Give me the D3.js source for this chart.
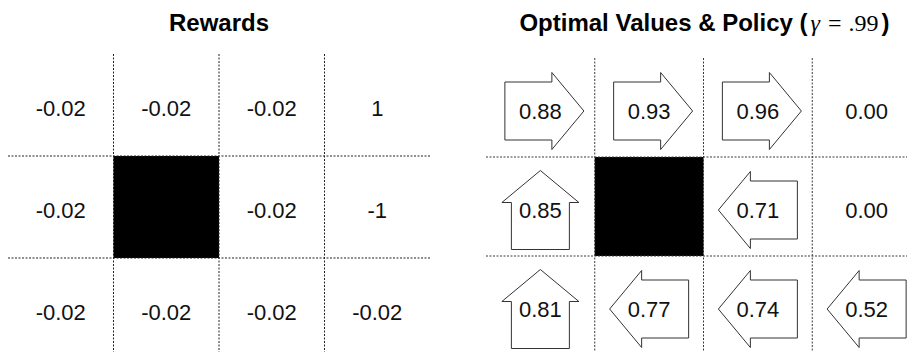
<!DOCTYPE html>
<html><head><meta charset="utf-8">
<script src="https://cdn.jsdelivr.net/npm/d3@7/dist/d3.min.js"></script>
<style>html,body{margin:0;padding:0;background:#fff;}svg{display:block;}</style>
</head><body>
<svg id="chart" width="907" height="352"></svg>
<script>
// ---- data ----
const cols = [0, 1, 2, 3];
const rows = [0, 1, 2];
const rewardLabels = [
  ["-0.02", "-0.02", "-0.02", "1"],
  ["-0.02", null,    "-0.02", "-1"],
  ["-0.02", "-0.02", "-0.02", "-0.02"]
];
const optimalValues = [
  [0.88, 0.93, 0.96, 0.00],
  [0.85, null, 0.71, 0.00],
  [0.81, 0.77, 0.74, 0.52]
];
const policy = [
  ["right", "right", "right", null],
  ["up",    null,    "left",  null],
  ["up",    "left",  "left",  "left"]
];
const wallCells = [[1, 1]]; // [row, col]
const titleLeft = "Rewards";
const titleRight = ["Optimal Values & Policy (", "γ", "=", ".99", ")"];

// ---- drawing ----
const svg = d3.select("#chart");
const W = 907, H = 352;

const panels = [
  {x: d3.scaleBand().domain(cols).range([8, 430]), y: d3.scaleBand().domain(rows).range([54, 360]), lineTop: 54, lineColor: "#222"},
  {x: d3.scaleBand().domain(cols).range([486, 921]), y: d3.scaleBand().domain(rows).range([58, 355]), lineTop: 58, lineColor: "#3a3a3a"}
];

function drawGrid(g, p) {
  const [x0, x1] = p.x.range();
  g.selectAll("rect.wall").data(wallCells).join("rect")
    .attr("class", "wall")
    .attr("x", d => p.x(d[1])).attr("y", d => p.y(d[0]))
    .attr("width", p.x.bandwidth()).attr("height", p.y.bandwidth())
    .attr("fill", "#000");
  g.selectAll("line.h").data(rows.slice(1)).join("line")
    .attr("class", "h")
    .attr("x1", x0).attr("x2", Math.min(x1, W))
    .attr("y1", d => p.y(d)).attr("y2", d => p.y(d))
    .attr("stroke", p.lineColor).attr("stroke-width", 1).attr("stroke-dasharray", "2,1.5");
  g.selectAll("line.v").data(cols.slice(1)).join("line")
    .attr("class", "v")
    .attr("x1", d => p.x(d)).attr("x2", d => p.x(d))
    .attr("y1", p.lineTop).attr("y2", H)
    .attr("stroke", p.lineColor).attr("stroke-width", 1).attr("stroke-dasharray", "2,1.5");
}

// Left panel
const gL = svg.append("g");
drawGrid(gL, panels[0]);
const pL = panels[0];
const leftCells = [];
rows.forEach(r => cols.forEach(c => { if (rewardLabels[r][c] !== null) leftCells.push({r, c, label: rewardLabels[r][c]}); }));
gL.selectAll("text.val").data(leftCells).join("text")
  .attr("class", "val")
  .attr("x", d => pL.x(d.c) + pL.x.bandwidth() / 2)
  .attr("y", d => pL.y(d.r) + pL.y.bandwidth() / 2 + 3)
  .attr("text-anchor", "middle").attr("dominant-baseline", "central")
  .attr("font-family", "'Liberation Sans', Arial, sans-serif").attr("font-size", 22)
  .attr("fill", "#111")
  .text(d => d.label);

gL.append("text")
  .attr("x", (pL.x.range()[0] + pL.x.range()[1]) / 2).attr("y", 31)
  .attr("text-anchor", "middle")
  .attr("font-family", "'Liberation Sans', Arial, sans-serif").attr("font-size", 24).attr("font-weight", "bold")
  .attr("fill", "#000")
  .text(titleLeft);

// Right panel
const gR = svg.append("g");
const pR = panels[1];
drawGrid(gR, pR);

const rightCells = [];
rows.forEach(r => cols.forEach(c => { if (optimalValues[r][c] !== null) rightCells.push({r, c, v: optimalValues[r][c], dir: policy[r][c]}); }));

const AL = 79, AH = 32, BW = 29, HW = 38.5;
const dirShift = {right: 4, left: 0, up: 0};
function arrowPath(dir) {
  const h = AL / 2;
  let pts = [[-h, -BW], [h - AH, -BW], [h - AH, -HW], [h, 0], [h - AH, HW], [h - AH, BW], [-h, BW]];
  if (dir === "left") pts = pts.map(([x, y]) => [-x, y]);
  if (dir === "up") pts = pts.map(([x, y]) => [y, -x]);
  return d3.line()(pts) + "Z";
}

const cells = gR.selectAll("g.cell").data(rightCells).join("g")
  .attr("class", "cell")
  .attr("transform", d => `translate(${pR.x(d.c) + pR.x.bandwidth() / 2},${pR.y(d.r) + pR.y.bandwidth() / 2 + 3.5})`);

cells.filter(d => d.dir).append("path")
  .attr("d", d => arrowPath(d.dir))
  .attr("transform", d => `translate(${dirShift[d.dir]},0)`)
  .attr("fill", "#fff").attr("stroke", "#333").attr("stroke-width", 1).attr("stroke-linejoin", "miter");

cells.append("text")
  .attr("text-anchor", "middle").attr("dominant-baseline", "central")
  .attr("font-family", "'Liberation Sans', Arial, sans-serif").attr("font-size", 22)
  .attr("fill", "#111")
  .text(d => d3.format(".2f")(d.v));

const serif = "'Liberation Serif', 'Times New Roman', serif";
const tR = gR.append("text")
  .attr("x", 704.5).attr("y", 31)
  .attr("text-anchor", "middle")
  .attr("font-family", "'Liberation Sans', Arial, sans-serif").attr("font-size", 24).attr("font-weight", "bold")
  .attr("fill", "#000");
tR.append("tspan").text(titleRight[0]);
tR.append("tspan").attr("font-family", serif).attr("font-weight", "normal").attr("font-style", "italic").attr("dx", 3).text(titleRight[1]);
tR.append("tspan").attr("font-family", serif).attr("font-weight", "normal").attr("dx", 8).text(titleRight[2]);
tR.append("tspan").attr("font-family", serif).attr("font-weight", "normal").attr("dx", 7).text(titleRight[3]);
tR.append("tspan").attr("dx", 3).text(titleRight[4]);
</script>
</body></html>
